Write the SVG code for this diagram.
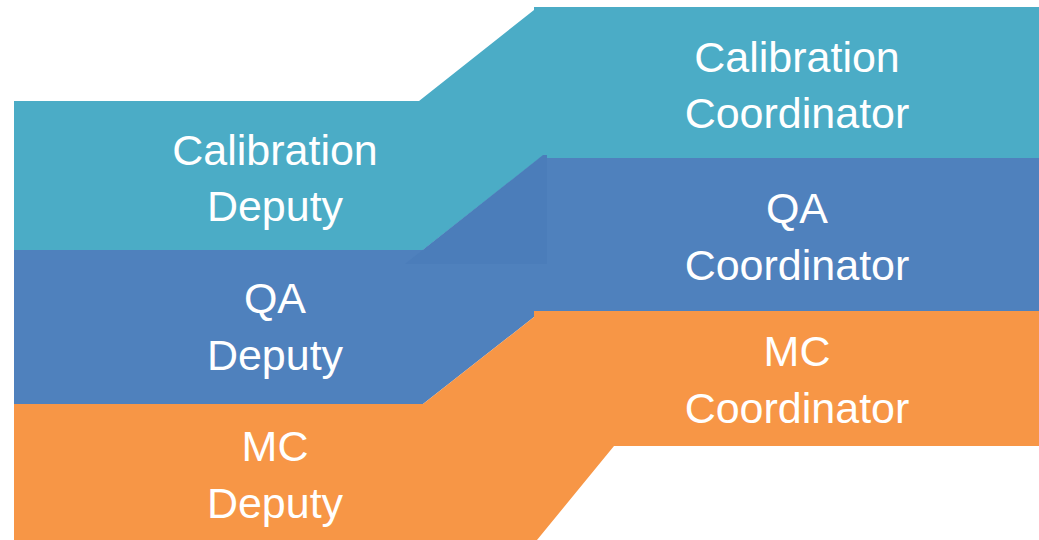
<svg xmlns="http://www.w3.org/2000/svg" width="1039" height="540" viewBox="0 0 1039 540">
  <style>
    .lbl { font-family: "Liberation Sans", Arial, sans-serif; font-size: 43px; fill: #ffffff; text-anchor: middle; }
    .teal { fill: #4BACC6; }
    .blue { fill: #4F81BD; }
    .blue2 { fill: #4B7DBA; }
    .orange { fill: #F79646; }
  </style>
  <rect width="1039" height="540" fill="#ffffff"/>
  <g id="bands">
    <polygon class="teal" points="14,101 419,101 534,10 534,7 1039,7 1039,158 540,158 423,250 14,250"/>
    <polygon class="blue" points="14,250 423,250 540,158 1039,158 1039,311 534,311 534,317 423,404 14,404"/>
    <polygon class="blue2" points="405,264 543,155 547,155 547,264"/>
    <polygon class="orange" points="14,404 423,404 534,317 534,311 1039,311 1039,446 614,446 537,540 14,540"/>
  </g>
  <g id="calibration-deputy">
    <text class="lbl" x="275" y="165">Calibration</text>
    <text class="lbl" x="275" y="221">Deputy</text>
  </g>
  <g id="qa-deputy">
    <text class="lbl" x="275" y="313">QA</text>
    <text class="lbl" x="275" y="370">Deputy</text>
  </g>
  <g id="mc-deputy">
    <text class="lbl" x="275" y="461">MC</text>
    <text class="lbl" x="275" y="518">Deputy</text>
  </g>
  <g id="calibration-coordinator">
    <text class="lbl" x="797" y="72">Calibration</text>
    <text class="lbl" x="797" y="128">Coordinator</text>
  </g>
  <g id="qa-coordinator">
    <text class="lbl" x="797" y="223">QA</text>
    <text class="lbl" x="797" y="280">Coordinator</text>
  </g>
  <g id="mc-coordinator">
    <text class="lbl" x="797" y="366">MC</text>
    <text class="lbl" x="797" y="423">Coordinator</text>
  </g>
  <g id="connectors"></g>
</svg>
